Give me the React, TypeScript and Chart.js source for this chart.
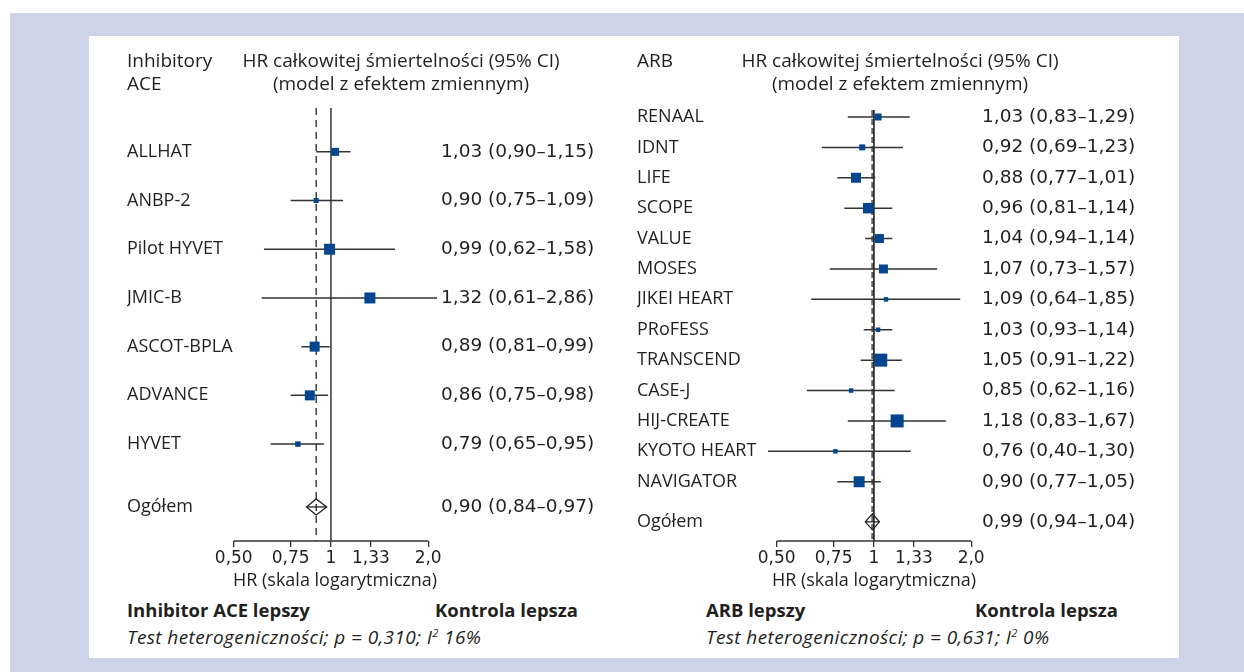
import React, { useEffect, useRef } from 'react';
import { Chart, registerables } from 'chart.js';

Chart.register(...registerables);

// ---------- data ----------
const ACE_STUDIES = ['ALLHAT', 'ANBP-2', 'Pilot HYVET', 'JMIC-B', 'ASCOT-BPLA', 'ADVANCE', 'HYVET'];
const ACE_HR = [1.03, 0.9, 0.99, 1.32, 0.89, 0.86, 0.79];
const ACE_LO = [0.9, 0.75, 0.62, 0.61, 0.81, 0.75, 0.65];
const ACE_HI = [1.15, 1.09, 1.58, 2.86, 0.99, 0.98, 0.95];
const ACE_WEIGHT = [8, 5, 11, 11, 10, 10, 5.5];
const ACE_POOLED = [0.9, 0.84, 0.97];

const ARB_STUDIES = ['RENAAL', 'IDNT', 'LIFE', 'SCOPE', 'VALUE', 'MOSES', 'JIKEI HEART', 'PRoFESS', 'TRANSCEND', 'CASE-J', 'HIJ-CREATE', 'KYOTO HEART', 'NAVIGATOR'];
const ARB_HR = [1.03, 0.92, 0.88, 0.96, 1.04, 1.07, 1.09, 1.03, 1.05, 0.85, 1.18, 0.76, 0.9];
const ARB_LO = [0.83, 0.69, 0.77, 0.81, 0.94, 0.73, 0.64, 0.93, 0.91, 0.62, 0.83, 0.4, 0.77];
const ARB_HI = [1.29, 1.23, 1.01, 1.14, 1.14, 1.57, 1.85, 1.14, 1.22, 1.16, 1.67, 1.3, 1.05];
const ARB_WEIGHT = [7, 6, 10, 10.5, 9, 9, 4.5, 4.5, 13, 4.5, 13, 4.5, 11];
const ARB_POOLED = [0.99, 0.94, 1.04];

const X_TICKS = [0.5, 0.75, 1, 1.33, 2];
const X_TICK_LABELS = ['0,50', '0,75', '1', '1,33', '2,0'];
const OVERALL_LABEL = 'Ogółem';

// ---------- styles ----------
const FONT = "'Open Sans', sans-serif";
const NUM_FONT = "'DejaVu Sans', sans-serif";
const TEXT = '#231f20';
const SQUARE = '#03468f';

const fmt = (v: number) => v.toFixed(2).replace('.', ',');
const ciLabel = (h: number, l: number, u: number) => `${fmt(h)} (${fmt(l)}–${fmt(u)})`;

type Panel = {
  names: string[]; hr: number[]; lo: number[]; hi: number[]; weight: number[]; pooled: number[];
  padLeft: number; padTop: number; yWidth: number; y2Width: number; labelPad: number;
  xMin: number; xMax: number;
  yMin: number; yMax: number; overallGap: number;
  dash: number[]; dashColor: string; dashWidth: number; refColor: string;
};

const ACE_PANEL: Panel = {
  names: ACE_STUDIES, hr: ACE_HR, lo: ACE_LO, hi: ACE_HI, weight: ACE_WEIGHT, pooled: ACE_POOLED,
  padLeft: 38, padTop: 72, yWidth: 106, y2Width: 183, labelPad: 4,
  xMin: 0.4973, xMax: 2.13,
  yMin: -0.9, yMax: 7.99, overallGap: 1.29,
  dash: [7, 5], dashColor: '#222', dashWidth: 1.3, refColor: '#333',
};

const ARB_PANEL: Panel = {
  names: ARB_STUDIES, hr: ARB_HR, lo: ARB_LO, hi: ARB_HI, weight: ARB_WEIGHT, pooled: ARB_POOLED,
  padLeft: 17, padTop: 74, yWidth: 131, y2Width: 199, labelPad: 2,
  xMin: 0.47, xMax: 2.13,
  yMin: -0.23, yMax: 13.95, overallGap: 1.32,
  dash: [6, 3], dashColor: '#666', dashWidth: 2.5, refColor: '#111',
};

function buildChart(canvas: HTMLCanvasElement, p: Panel) {
  const n = p.names.length;
  const overallRow = n - 1 + p.overallGap;
  const tickRows = [...p.names.map((_, i) => i), overallRow];
  const leftLabels = [...p.names, OVERALL_LABEL];
  const rightLabels = [
    ...p.hr.map((h, i) => ciLabel(h, p.lo[i], p.hi[i])),
    ciLabel(p.pooled[0], p.pooled[1], p.pooled[2]),
  ];
  const ciData: { x: number; y: number }[] = [];
  p.names.forEach((_, i) => {
    ciData.push({ x: p.lo[i], y: i }, { x: p.hi[i], y: i }, { x: NaN, y: NaN });
  });

  const decor = {
    id: 'forestDecor',
    beforeDatasetsDraw(chart: any) {
      const { ctx, chartArea: a, scales } = chart;
      const x = scales.x;
      ctx.save();
      const xp = x.getPixelForValue(p.pooled[0]);
      ctx.setLineDash(p.dash);
      ctx.strokeStyle = p.dashColor;
      ctx.lineWidth = p.dashWidth;
      ctx.beginPath(); ctx.moveTo(xp, a.top); ctx.lineTo(xp, a.bottom); ctx.stroke();
      ctx.setLineDash([]);
      const x1 = x.getPixelForValue(1);
      ctx.strokeStyle = p.refColor;
      ctx.lineWidth = 1.5;
      ctx.beginPath(); ctx.moveTo(x1, a.top); ctx.lineTo(x1, a.bottom); ctx.stroke();
      ctx.strokeStyle = '#333';
      ctx.lineWidth = 1.3;
      ctx.beginPath();
      ctx.moveTo(x.getPixelForValue(X_TICKS[0]), a.bottom);
      ctx.lineTo(x.getPixelForValue(X_TICKS[X_TICKS.length - 1]), a.bottom);
      ctx.stroke();
      ctx.restore();
    },
    afterDatasetsDraw(chart: any) {
      const { ctx, scales } = chart;
      const x = scales.x, y = scales.y;
      const yy = y.getPixelForValue(overallRow);
      const xc = x.getPixelForValue(p.pooled[0]);
      const xl = x.getPixelForValue(p.pooled[1]);
      const xr = x.getPixelForValue(p.pooled[2]);
      ctx.save();
      ctx.strokeStyle = '#222';
      ctx.lineWidth = 1.3;
      ctx.beginPath();
      ctx.moveTo(xl, yy); ctx.lineTo(xc, yy - 8); ctx.lineTo(xr, yy); ctx.lineTo(xc, yy + 8); ctx.closePath();
      ctx.stroke();
      ctx.beginPath(); ctx.moveTo(xl, yy); ctx.lineTo(xr, yy); ctx.stroke();
      ctx.restore();
    },
  };

  const nameFont = { family: FONT, size: 18 };
  const numFont = { family: NUM_FONT, size: 17 };
  const valueFont = { family: NUM_FONT, size: 18.5 };

  return new Chart(canvas, {
    type: 'scatter',
    data: {
      datasets: [
        {
          data: p.hr.map((v, i) => ({ x: v, y: i })),
          pointStyle: 'rect',
          pointRadius: p.weight.map((w) => w / Math.SQRT2),
          backgroundColor: SQUARE,
          borderWidth: 0,
          showLine: false,
        },
        {
          data: ciData,
          showLine: true,
          pointRadius: 0,
          borderColor: '#333',
          borderWidth: 1.5,
          spanGaps: false,
        },
      ],
    },
    options: {
      responsive: false,
      animation: false,
      events: [],
      layout: { padding: { left: p.padLeft, top: p.padTop, right: 0, bottom: 0 } },
      plugins: { legend: { display: false }, tooltip: { enabled: false } },
      scales: {
        x: {
          type: 'logarithmic',
          min: p.xMin,
          max: p.xMax,
          bounds: 'data',
          afterBuildTicks: (s: any) => { s.ticks = X_TICKS.map((v) => ({ value: v })); },
          afterFit: (s: any) => { s.height = 51; },
          ticks: {
            autoSkip: false, maxRotation: 0, padding: 1,
            font: numFont, color: TEXT,
            callback: (_v: any, i: number) => X_TICK_LABELS[i],
          },
          grid: { display: true, drawOnChartArea: false, drawTicks: true, tickLength: 6, color: '#333', lineWidth: 1.3 },
          border: { display: false },
          title: { display: true, text: 'HR (skala logarytmiczna)', font: nameFont, color: TEXT, padding: 0 },
        },
        y: {
          type: 'linear',
          position: 'left',
          reverse: true,
          min: p.yMin,
          max: p.yMax,
          bounds: 'data',
          afterBuildTicks: (s: any) => { s.ticks = tickRows.map((v) => ({ value: v })); },
          afterFit: (s: any) => { s.width = p.yWidth; },
          ticks: {
            autoSkip: false, crossAlign: 'far', font: nameFont, color: TEXT,
            callback: (_v: any, i: number) => leftLabels[i],
          },
          grid: { display: false, drawTicks: false },
          border: { display: false },
        },
        y2: {
          type: 'linear',
          position: 'right',
          reverse: true,
          min: p.yMin,
          max: p.yMax,
          bounds: 'data',
          afterBuildTicks: (s: any) => { s.ticks = tickRows.map((v) => ({ value: v })); },
          afterFit: (s: any) => { s.width = p.y2Width; },
          ticks: {
            autoSkip: false, crossAlign: 'near', padding: p.labelPad, font: valueFont, color: TEXT,
            callback: (_v: any, i: number) => rightLabels[i],
          },
          grid: { display: false, drawTicks: false },
          border: { display: false },
        },
      },
    } as any,
    plugins: [decor],
  } as any);
}

type TxtProps = { x: number; y: number; align?: 'left' | 'center' | 'right'; bold?: boolean; italic?: boolean; size?: number; spacing?: number; children: React.ReactNode };
const Txt = ({ x, y, align = 'left', bold, italic, size = 19, spacing = 0, children }: TxtProps) => {
  const style: React.CSSProperties = {
    position: 'absolute', top: y - 12, lineHeight: '24px', fontSize: size, whiteSpace: 'nowrap',
    fontWeight: bold ? 700 : 400, fontStyle: italic ? 'italic' : 'normal', letterSpacing: spacing,
  };
  if (align === 'left') style.left = x;
  else if (align === 'right') style.right = 1244 - x;
  else { style.left = x; style.transform = 'translateX(-50%)'; }
  return <div style={style}>{children}</div>;
};

const supStyle: React.CSSProperties = { fontSize: 11, verticalAlign: 'top', lineHeight: '16px' };

export default function App() {
  const leftRef = useRef<HTMLCanvasElement>(null);
  const rightRef = useRef<HTMLCanvasElement>(null);

  useEffect(() => {
    const c1 = buildChart(leftRef.current!, ACE_PANEL);
    const c2 = buildChart(rightRef.current!, ARB_PANEL);
    return () => { c1.destroy(); c2.destroy(); };
  }, []);

  return (
    <div style={{ position: 'absolute', left: 0, top: 0, width: 1244, height: 672, background: '#fff', fontFamily: FONT, color: TEXT, overflow: 'hidden' }}>
      <div style={{ position: 'absolute', left: 10, top: 13, right: 0, bottom: 0, background: '#ced4e7' }} />
      <div style={{ position: 'absolute', left: 89, top: 36, width: 1090, height: 622, background: '#fff' }} />
      <canvas ref={leftRef} width={531} height={556} style={{ position: 'absolute', left: 89, top: 36 }} />
      <canvas ref={rightRef} width={559} height={556} style={{ position: 'absolute', left: 620, top: 36 }} />

      <Txt x={127} y={60}>Inhibitory</Txt>
      <Txt x={127} y={83}>ACE</Txt>
      <Txt x={401} y={60} align="center">HR całkowitej śmiertelności (95% CI)</Txt>
      <Txt x={401} y={83} align="center">(model z efektem zmiennym)</Txt>

      <Txt x={637} y={60}>ARB</Txt>
      <Txt x={900} y={60} align="center">HR całkowitej śmiertelności (95% CI)</Txt>
      <Txt x={900} y={83} align="center">(model z efektem zmiennym)</Txt>

      <Txt x={127} y={610} bold size={18.5}>Inhibitor ACE lepszy</Txt>
      <Txt x={578} y={610} bold size={18.5} align="right">Kontrola lepsza</Txt>
      <Txt x={127} y={637} italic size={19} spacing={0.4}>Test heterogeniczności; p = 0,310; I<sup style={supStyle}>2</sup> 16%</Txt>

      <Txt x={706} y={610} bold size={18.5}>ARB lepszy</Txt>
      <Txt x={1118} y={610} bold size={18.5} align="right">Kontrola lepsza</Txt>
      <Txt x={706} y={637} italic size={19} spacing={0.4}>Test heterogeniczności; p = 0,631; I<sup style={supStyle}>2</sup> 0%</Txt>
    </div>
  );
}
